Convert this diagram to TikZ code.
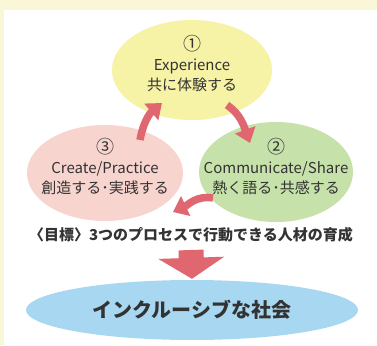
\documentclass[tikz,border=0pt]{standalone}
\usepackage{fontspec}
\setmainfont{Noto Sans CJK JP}
\usetikzlibrary{arrows.meta}
\usetikzlibrary{shapes.geometric}
\usepackage{xcolor}
\definecolor{cream}{HTML}{FAF6D8}
\definecolor{yel}{HTML}{F6F2A6}
\definecolor{grn}{HTML}{C6E1A9}
\definecolor{pnk}{HTML}{F7D4CE}
\definecolor{sky}{HTML}{A8D8F1}
\definecolor{arr}{HTML}{E0666F}
\definecolor{ink}{HTML}{333333}

\newcommand{\stepno}[1]{{\fontsize{18}{20}\selectfont #1}}

\tikzset{
  bubble/.style={ellipse, inner sep=0pt},
  bubtext/.style={text=ink, align=center, inner sep=0pt, font=\fontsize{15}{20}\selectfont},
  cyc/.style={arr, line width=7.5pt, -{Triangle[width=21pt,length=14pt]}},
  bigarr/.style={arr, line width=25pt, -{Triangle[width=65pt,length=21pt]}},
}

\begin{document}
\begin{tikzpicture}[x=1pt,y=1pt]
\useasboundingbox (0,0) rectangle (377,-345);
\fill[cream] (0,0) rectangle (377,-345);
\fill[white] (4,-10) rectangle (377,-345);

% the three steps
\node[bubble, fill=yel, minimum width=160pt, minimum height=100pt] (exp) at (192,-70) {};
\node[bubble, fill=grn, minimum width=154pt, minimum height=100pt] (com) at (276,-172) {};
\node[bubble, fill=pnk, minimum width=156pt, minimum height=96pt] (cre) at (105,-173) {};
\node[bubtext] (expt) at ([yshift=7pt]exp.center) {\stepno{①}\\Experience\\共に体験する};
\node[bubtext] (comt) at ([yshift=6pt]com.center) {\stepno{②}\\Communicate/Share\\熱く語る･共感する};
\node[bubtext] (cret) at ([yshift=7pt]cre.center) {\stepno{③}\\Create/Practice\\創造する･実践する};

% cycle
\draw[cyc] ([shift={(35,33)}]cre.center) to[out=80,in=220] ([shift={(-30,-33)}]exp.center);
\draw[cyc] ([shift={(35,-35)}]exp.center) to[out=-35,in=110] ([shift={(-26,29)}]com.center);
\draw[cyc] ([shift={(-63,-26)}]com.center) to[out=170,in=25] ([shift={(68,-39)}]cre.center);

% goal
\node[text=ink, font=\fontsize{15}{18}\selectfont\bfseries] (goal) at (191,-235) {〈目標〉3つのプロセスで行動できる人材の育成};
\node[bubble, fill=sky, minimum width=332pt, minimum height=60pt] (soc) at (192,-310) {};
\node[text=ink, font=\fontsize{20}{24}\selectfont\bfseries] (soct) at (soc.center) {インクルーシブな社会};
\draw[bigarr, shorten >=1pt] ([yshift=-15pt]goal.center) -- (soc.north);
\end{tikzpicture}
\end{document}
